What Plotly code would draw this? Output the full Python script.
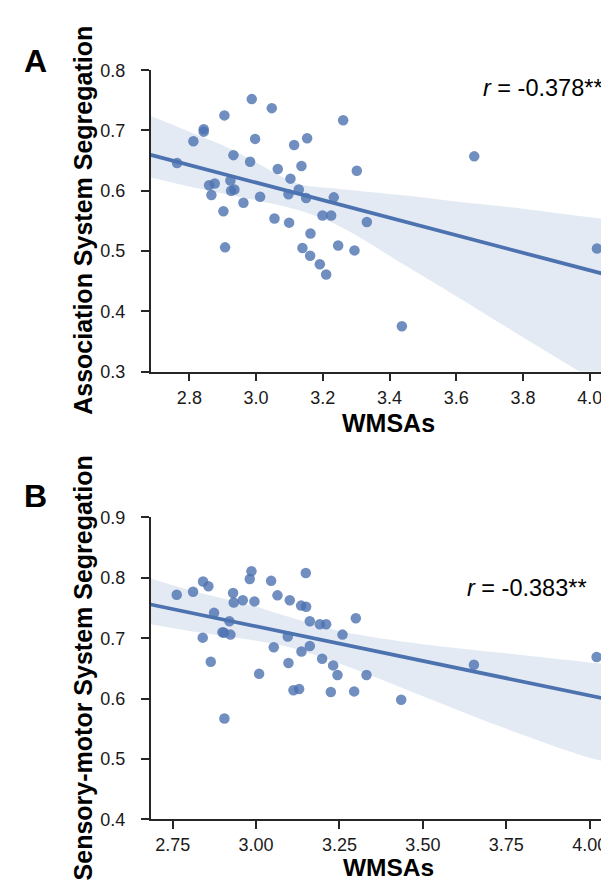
import numpy as np
import plotly.graph_objects as go

# ---------------- data ----------------
wmsa_a = [2.763, 2.812, 2.843, 2.843, 2.859, 2.866, 2.876, 2.902, 2.905, 2.907,
          2.923, 2.925, 2.932, 2.935, 2.962, 2.982, 2.987, 2.997, 3.012, 3.047,
          3.055, 3.065, 3.097, 3.099, 3.103, 3.114, 3.128, 3.136, 3.139, 3.150,
          3.153, 3.162, 3.163, 3.191, 3.199, 3.210, 3.225, 3.233, 3.246, 3.261,
          3.295, 3.302, 3.332, 3.437, 3.654, 4.022]
assoc_seg = [0.646, 0.682, 0.702, 0.698, 0.609, 0.593, 0.612, 0.566, 0.725, 0.506,
             0.617, 0.600, 0.659, 0.602, 0.580, 0.648, 0.752, 0.686, 0.590, 0.737,
             0.554, 0.636, 0.594, 0.547, 0.620, 0.676, 0.602, 0.641, 0.505, 0.588,
             0.687, 0.492, 0.529, 0.478, 0.559, 0.461, 0.559, 0.589, 0.509, 0.717,
             0.501, 0.633, 0.548, 0.375, 0.657, 0.504]

wmsa_b = [2.762, 2.811, 2.840, 2.841, 2.857, 2.864, 2.874, 2.899, 2.904, 2.905,
          2.920, 2.923, 2.931, 2.933, 2.960, 2.981, 2.986, 2.995, 3.009, 3.045,
          3.053, 3.064, 3.095, 3.097, 3.101, 3.112, 3.129, 3.135, 3.136, 3.149,
          3.150, 3.161, 3.161, 3.191, 3.198, 3.210, 3.224, 3.231, 3.244, 3.259,
          3.294, 3.299, 3.331, 3.435, 3.653, 4.021]
sensorimotor_seg = [0.772, 0.777, 0.701, 0.794, 0.786, 0.661, 0.742, 0.710, 0.709, 0.567,
                    0.728, 0.706, 0.775, 0.759, 0.763, 0.798, 0.811, 0.761, 0.641, 0.795,
                    0.685, 0.771, 0.703, 0.659, 0.763, 0.614, 0.616, 0.754, 0.678, 0.808,
                    0.752, 0.728, 0.687, 0.723, 0.666, 0.723, 0.611, 0.655, 0.639, 0.706,
                    0.612, 0.733, 0.639, 0.598, 0.656, 0.669]

# 95% confidence band edges
ci_x_a = [2.684, 2.80, 2.93, 3.00, 3.13, 3.25, 3.45, 3.60, 3.80, 3.97, 4.082]
ci_upper_a = [0.724, 0.698, 0.668, 0.647, 0.611, 0.603, 0.592, 0.582, 0.570, 0.558, 0.551]
ci_lower_a = [0.622, 0.607, 0.592, 0.584, 0.567, 0.541, 0.475, 0.425, 0.357, 0.300, 0.263]

ci_x_b = [2.684, 2.80, 3.00, 3.10, 3.25, 3.50, 3.75, 4.00, 4.082]
ci_upper_b = [0.799, 0.780, 0.752, 0.735, 0.712, 0.690, 0.675, 0.660, 0.656]
ci_lower_b = [0.723, 0.712, 0.696, 0.685, 0.658, 0.604, 0.550, 0.502, 0.491]

xticks_a = [2.8, 3.0, 3.2, 3.4, 3.6, 3.8, 4.0]
xticklabels_a = ["2.8", "3.0", "3.2", "3.4", "3.6", "3.8", "4.0"]
yticks_a = [0.3, 0.4, 0.5, 0.6, 0.7, 0.8]
yticklabels_a = ["0.3", "0.4", "0.5", "0.6", "0.7", "0.8"]
xticks_b = [2.75, 3.00, 3.25, 3.50, 3.75, 4.00]
xticklabels_b = ["2.75", "3.00", "3.25", "3.50", "3.75", "4.00"]
yticks_b = [0.4, 0.5, 0.6, 0.7, 0.8, 0.9]
yticklabels_b = ["0.4", "0.5", "0.6", "0.7", "0.8", "0.9"]

r_a = "<i>r</i> = -0.378**"
r_b = "<i>r</i> = -0.383**"

# ---------------- styling ----------------
W, H = 609, 883
BLUE = "#4C72B0"
PT = "rgba(76,114,176,0.8)"
BAND = "rgba(76,114,176,0.15)"
AX = "#262626"
FONT = "Liberation Sans, Arial, sans-serif"
XR = [2.684, 4.082]


def ols_line(x, y, grid):
    b, a = np.polyfit(np.asarray(x, float), np.asarray(y, float), 1)
    return a + b * np.asarray(grid)


fig = go.Figure()
grid = [XR[0], XR[1]]

panels = [(wmsa_a, assoc_seg, ci_x_a, ci_lower_a, ci_upper_a, "x", "y"),
          (wmsa_b, sensorimotor_seg, ci_x_b, ci_lower_b, ci_upper_b, "x2", "y2")]
for (xs, ys, cx, clo, chi, xa, ya) in panels:
    fig.add_trace(go.Scatter(x=cx, y=clo, mode="lines", line=dict(width=0, shape="spline"),
                             hoverinfo="skip", showlegend=False, xaxis=xa, yaxis=ya))
    fig.add_trace(go.Scatter(x=cx, y=chi, mode="lines", line=dict(width=0, shape="spline"),
                             fill="tonexty", fillcolor=BAND,
                             hoverinfo="skip", showlegend=False, xaxis=xa, yaxis=ya))
    fig.add_trace(go.Scatter(x=xs, y=ys, mode="markers",
                             marker=dict(size=10.5, color=PT, line=dict(width=0)),
                             showlegend=False, xaxis=xa, yaxis=ya))
    fig.add_trace(go.Scatter(x=grid, y=ols_line(xs, ys, grid), mode="lines",
                             line=dict(color=BLUE, width=3.8),
                             showlegend=False, xaxis=xa, yaxis=ya))

xl = 142.7 / W
dom_a = [1 - 361.7 / H, 1 - 53.4 / H]
dom_b = [1 - 820.0 / H, 1 - 511.0 / H]

axis_common = dict(showline=True, linecolor=AX, linewidth=1.8, ticks="outside",
                   ticklen=8, tickwidth=1.5, tickcolor=AX, showgrid=False,
                   zeroline=False, tickfont=dict(family=FONT, size=18, color="#1a1a1a"),
                   mirror=False)

fig.update_layout(
    width=W, height=H, margin=dict(l=0, r=0, t=0, b=0),
    paper_bgcolor="white", plot_bgcolor="white",
    xaxis=dict(domain=[xl, 1], range=XR, anchor="y", tickvals=xticks_a,
               ticktext=xticklabels_a, ticklabelstandoff=1, **axis_common),
    yaxis=dict(domain=dom_a, range=[0.3, 0.8], anchor="x", tickvals=yticks_a,
               ticktext=yticklabels_a, ticklabelstandoff=12, **axis_common),
    xaxis2=dict(domain=[xl, 1], range=XR, anchor="y2", tickvals=xticks_b,
                ticktext=xticklabels_b, ticklabelstandoff=0, **axis_common),
    yaxis2=dict(domain=dom_b, range=[0.4, 0.9], anchor="x2", tickvals=yticks_b,
                ticktext=yticklabels_b, ticklabelstandoff=12, **axis_common),
)

ann = []


def add(text, px, py, size, angle=0, xanchor="center"):
    ann.append(dict(text=text, x=px / W, y=1 - py / H, xref="paper", yref="paper",
                    xanchor=xanchor, yanchor="middle", textangle=angle,
                    showarrow=False, font=dict(family=FONT, size=size, color="black")))


# panel letters
add("<b>A</b>", 27, 44, 32)
add("<b>B</b>", 27, 489, 32)
# y titles
add("<b>Association System Segregation</b>", 75, 207.5, 25, angle=-90)
add("<b>Sensory-motor System Segregation</b>", 75, 665.5, 25, angle=-90)
# x titles
add("<b>WMSAs</b>", 380, 414, 25)
add("<b>WMSAs</b>", 380, 869.5, 24.5)
# r values
add(r_a, 597, 72, 23.5, xanchor="right")
add(r_b, 581, 583.5, 23.5, xanchor="right")
fig.update_layout(annotations=ann)

fig.write_html("out.html")
